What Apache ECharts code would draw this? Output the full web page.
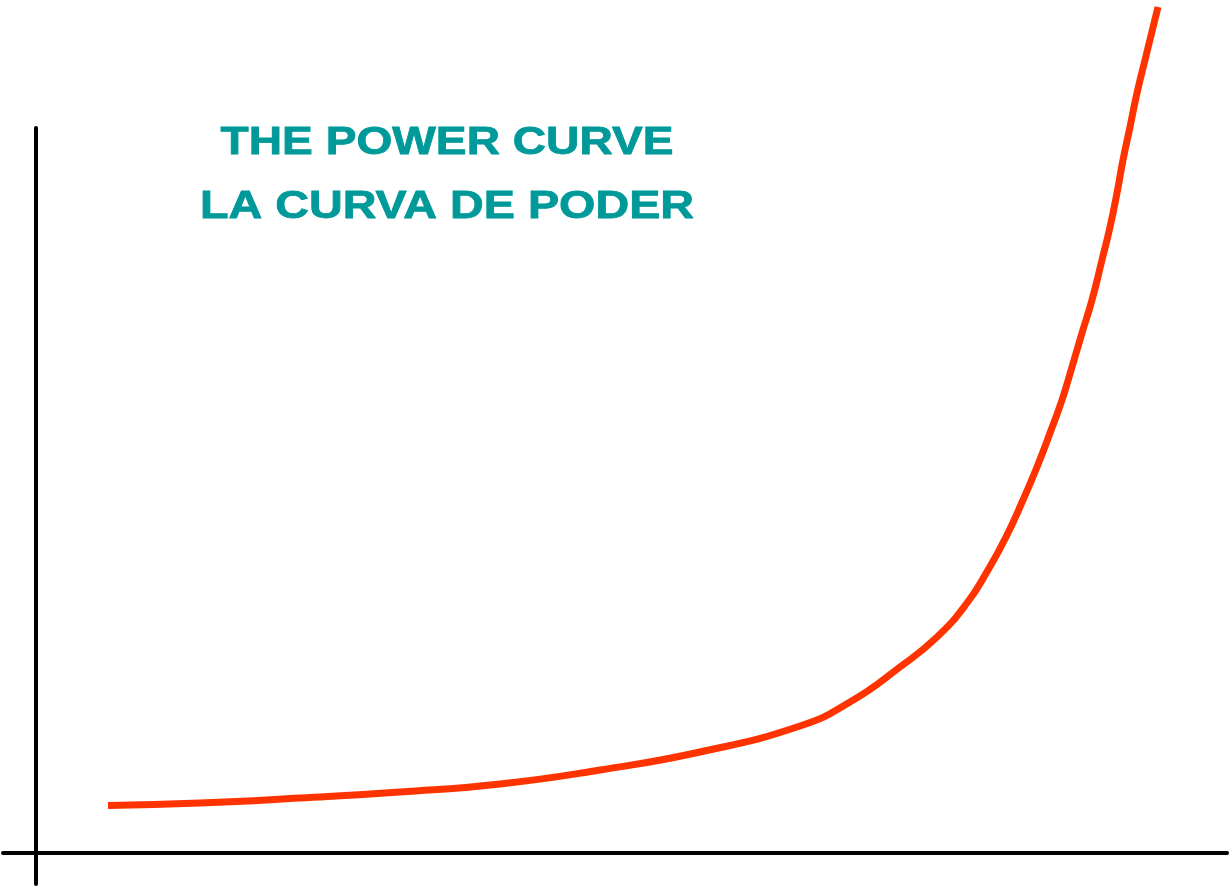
<!DOCTYPE html>
<html>
<head>
<meta charset="utf-8">
<script src="https://cdn.jsdelivr.net/npm/echarts@6/dist/echarts.min.js"></script>
<style>
html,body{margin:0;padding:0;background:#fff;}
#chart{width:1229px;height:886px;}
</style>
</head>
<body>
<div id="chart"></div>
<script>
// Data (arbitrary units)
const titleLines = ['THE POWER CURVE', 'LA CURVA DE PODER'];
const xValues = [0.72, 1.64, 2.64, 3.64, 4.64, 5.64, 6.64, 7.64, 8.14, 8.64, 9.01, 9.31, 9.52, 9.70, 9.87, 10.01, 10.14, 10.26, 10.36, 10.46, 10.56, 10.66, 10.74, 10.81, 10.87, 10.94, 11.01, 11.09, 11.22];
const yValues = [0.475, 0.50, 0.55, 0.61, 0.69, 0.83, 1.01, 1.27, 1.51, 1.86, 2.16, 2.50, 2.83, 3.16, 3.53, 3.86, 4.20, 4.53, 4.86, 5.20, 5.53, 5.93, 6.26, 6.60, 6.93, 7.26, 7.60, 7.93, 8.46];

const curveData = xValues.map((x, i) => [x, yValues[i]]);

const chart = echarts.init(document.getElementById('chart'), null, {renderer: 'canvas'});

function titleText(text, y, scaleX) {
  return {
    type: 'text',
    x: 447,
    y: y,
    scaleX: scaleX,
    style: {
      text: text,
      x: 0,
      y: 0,
      align: 'center',
      verticalAlign: 'middle',
      font: 'bold 39px "Liberation Sans", Arial, sans-serif',
      fill: '#009999',
      stroke: '#009999',
      lineWidth: 0.8,
      textShadowColor: '#000066',
      textShadowOffsetX: -1.5,
      textShadowOffsetY: 1,
      textShadowBlur: 0
    },
    z: 10
  };
}

chart.setOption({
  backgroundColor: '#ffffff',
  animation: false,
  grid: {left: 3, right: 2, top: 128, bottom: 2, containLabel: false},
  xAxis: {
    type: 'value',
    min: -0.33,
    max: 11.91,
    axisLine: {show: true, onZero: true, lineStyle: {color: '#000', width: 4}},
    axisTick: {show: false},
    axisLabel: {show: false},
    splitLine: {show: false}
  },
  yAxis: {
    type: 'value',
    min: -0.31,
    max: 7.25,
    axisLine: {show: true, onZero: true, lineStyle: {color: '#000', width: 4}},
    axisTick: {show: false},
    axisLabel: {show: false},
    splitLine: {show: false}
  },
  graphic: [
    titleText(titleLines[0], 143, 1.183),
    titleText(titleLines[1], 207, 1.198)
  ],
  series: [{
    type: 'line',
    data: curveData,
    smooth: 0.5,
    showSymbol: false,
    clip: false,
    lineStyle: {color: '#ff3300', width: 7}
  }]
});
</script>
</body>
</html>
